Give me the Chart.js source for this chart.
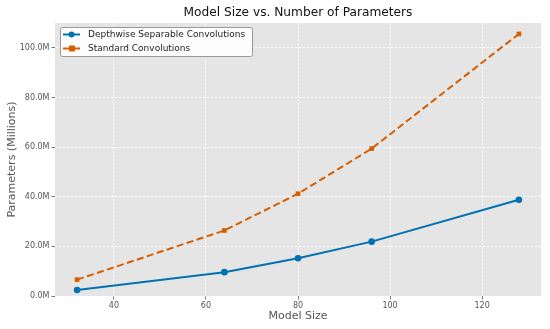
<!DOCTYPE html>
<html>
<head>
<meta charset="utf-8">
<script src="https://cdn.jsdelivr.net/npm/chart.js@4"></script>
<style>
  html, body { margin: 0; padding: 0; background: #fff; }
  #wrap { width: 550px; height: 329px; }
</style>
</head>
<body>
<div id="wrap"><canvas id="chart_params" width="550" height="329"></canvas></div>
<script>
let modelSizes = [32, 64, 80, 96, 128];
let depthwise = [2.4, 9.6, 15.2, 21.9, 38.8];
let standard = [6.6, 26.4, 41.2, 59.4, 105.6];
let xTicks = [40, 60, 80, 100, 120];
let yTicks = [0, 20, 40, 60, 80, 100];
let chartTitle = 'Model Size vs. Number of Parameters';

let FONT = "'DejaVu Sans', sans-serif";

let toPoints = (xs, ys) => xs.map((x, i) => ({ x: x, y: ys[i] }));

let areaBg = {
    id: 'areaBg',
    beforeDraw(chart) {
        let a = chart.chartArea, c = chart.ctx;
        c.save();
        c.fillStyle = '#e5e5e5';
        c.fillRect(a.left, a.top, a.right - a.left, a.bottom - a.top);
        c.restore();
    }
};

// matplotlib centres the title over the axes, not the whole figure
let axesTitle = {
    id: 'axesTitle',
    afterDraw(chart) {
        let a = chart.chartArea, c = chart.ctx;
        c.save();
        c.font = '12.2px ' + FONT;
        c.fillStyle = '#111';
        c.textAlign = 'center';
        c.textBaseline = 'middle';
        c.fillText(chartTitle, (a.left + a.right) / 2, 13);
        c.restore();
    }
};

let boxLegend = {
    id: 'boxLegend',
    afterDraw(chart) {
        let a = chart.chartArea, c = chart.ctx;
        let x = a.left + 5, y = a.top + 4, w = 192, h = 29;
        c.save();
        c.fillStyle = 'rgba(255,255,255,0.9)';
        c.strokeStyle = '#999';
        c.lineWidth = 1;
        c.beginPath();
        c.roundRect(x + 0.5, y + 0.5, w, h, 2);
        c.fill();
        c.stroke();
        c.font = '9px ' + FONT;
        c.textBaseline = 'middle';
        chart.data.datasets.forEach((ds, i) => {
            let ly = y + 7.5 + i * 14;
            c.strokeStyle = ds.borderColor;
            c.lineWidth = 2;
            c.setLineDash(ds.borderDash || []);
            c.beginPath();
            c.moveTo(x + 3, ly);
            c.lineTo(x + 20, ly);
            c.stroke();
            c.setLineDash([]);
            c.fillStyle = ds.borderColor;
            if (ds.pointStyle === 'rect') {
                c.fillRect(x + 9, ly - 3, 6, 6);
            } else {
                c.beginPath();
                c.arc(x + 11.5, ly, 3, 0, Math.PI * 2);
                c.fill();
            }
            c.fillStyle = '#222';
            c.fillText(ds.label, x + 28, ly + 0.5);
        });
        c.restore();
    }
};

let ctx_params = document.getElementById('chart_params');

let chart_params = new Chart(ctx_params, {
    type: 'line',
    data: {
        datasets: [{
            label: 'Depthwise Separable Convolutions',
            data: toPoints(modelSizes, depthwise),
            borderColor: '#0072B2',
            backgroundColor: '#0072B2',
            borderWidth: 2,
            pointStyle: 'circle',
            pointRadius: 3.3,
            pointBorderWidth: 0,
            tension: 0
        }, {
            label: 'Standard Convolutions',
            data: toPoints(modelSizes, standard),
            borderColor: '#D55E00',
            backgroundColor: '#D55E00',
            borderWidth: 2,
            borderDash: [7, 3.5],
            pointStyle: 'rect',
            pointRadius: 3.3,
            pointBorderWidth: 0,
            tension: 0
        }]
    },
    options: {
        responsive: false,
        maintainAspectRatio: false,
        animation: false,
        layout: { padding: { left: 0, right: 9, top: 23, bottom: 0 } },
        plugins: {
            legend: { display: false },
            tooltip: { enabled: false },
            title: { display: false }
        },
        scales: {
            x: {
                type: 'linear',
                min: 27.2,
                max: 132.8,
                afterBuildTicks: s => { s.ticks = xTicks.map(v => ({ value: v })); },
                afterFit: s => { s.height = 33; },
                grid: {
                    color: '#ffffff',
                    lineWidth: 0.8,
                    tickColor: '#555',
                    tickLength: 3.5,
                    tickBorderDash: []
                },
                border: { display: false, dash: [2.5, 1.5] },
                ticks: {
                    color: '#555',
                    padding: 2,
                    font: { family: FONT, size: 8 }
                },
                title: {
                    display: true,
                    text: 'Model Size',
                    color: '#555',
                    padding: { top: 0, bottom: 6 },
                    font: { family: FONT, size: 11 }
                }
            },
            y: {
                min: 0,
                max: 110,
                afterBuildTicks: s => { s.ticks = yTicks.map(v => ({ value: v })); },
                afterFit: s => { s.width = 55; },
                grid: {
                    color: '#ffffff',
                    lineWidth: 0.8,
                    tickColor: '#555',
                    tickLength: 3.5,
                    tickBorderDash: []
                },
                border: { display: false, dash: [2.5, 1.5] },
                ticks: {
                    color: '#555',
                    padding: 2,
                    font: { family: FONT, size: 8 },
                    callback: v => v.toFixed(1) + 'M'
                },
                title: {
                    display: true,
                    text: 'Parameters (Millions)',
                    color: '#555',
                    padding: { top: 6, bottom: 0 },
                    font: { family: FONT, size: 11 }
                }
            }
        }
    },
    plugins: [areaBg, axesTitle, boxLegend]
});
</script>
</body>
</html>
